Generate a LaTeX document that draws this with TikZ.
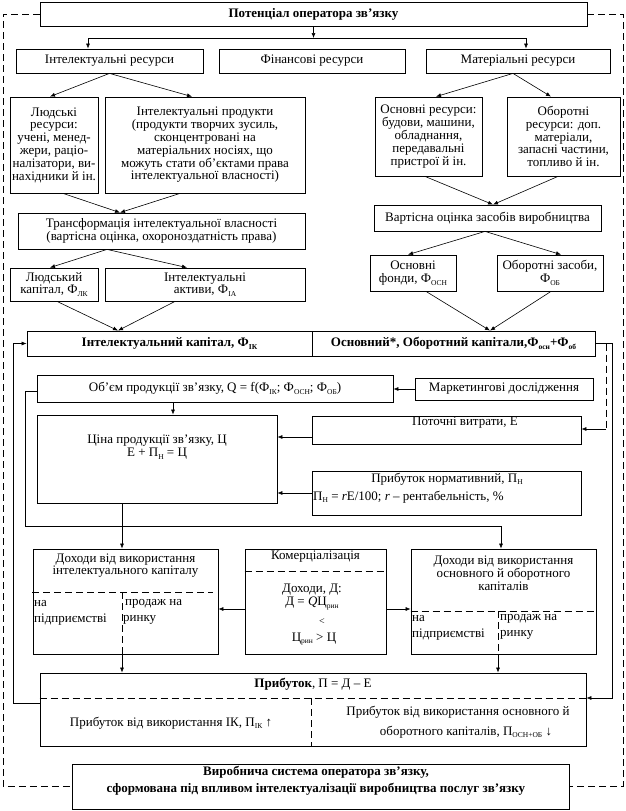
\documentclass[tikz,border=0pt]{standalone}
\usepackage{fontspec}
\setmainfont{Liberation Serif}
\usetikzlibrary{arrows.meta}
\newcommand\lsub[1]{\raisebox{-0.45ex}{\fontsize{7.5}{8}\selectfont #1}}
\begin{document}
\begin{tikzpicture}[x=1pt,y=-1pt,
  font=\fontsize{13}{12.8}\selectfont,
  box/.style={draw, line width=0.8pt, inner sep=0pt, align=center},
  txt/.style={inner sep=0pt, align=center},
  bfnt/.style={font=\fontsize{13}{16.5}\selectfont\bfseries},
  arr/.style={-{Latex[length=5pt,width=4pt]}, line width=0.6pt},
  ln/.style={line width=0.6pt},
  dsh/.style={line width=0.7pt, dash pattern=on 7pt off 4pt}]
\useasboundingbox (0,0) rectangle (626,811);
% boxes
\node[box, bfnt, minimum width=547pt, minimum height=24pt] (top) at (313.5,14) {Потенціал оператора зв’язку};
\node[box, minimum width=187pt, minimum height=24pt] (ir) at (109.5,61) {Інтелектуальні ресурси};
\node[box, minimum width=186pt, minimum height=24pt] (fr) at (312,61) {Фінансові ресурси};
\node[box, minimum width=184pt, minimum height=24pt] (mr) at (518,61) {Матеріальні ресурси};
\node[box, minimum width=88pt, minimum height=96pt] (lr) at (54,145) {Людські\\ресурси:\\учені, менед-\\жери, раціо-\\налізатори, ви-\\нахідники й ін.};
\node[box, minimum width=200pt, minimum height=96pt] (ip) at (205,145) {Інтелектуальні продукти\\(продукти творчих зусиль,\\сконцентровані на\\матеріальних носіях, що\\можуть стати об’єктами права\\інтелектуальної власності)};
\node[box, minimum width=107pt, minimum height=79pt] (osr) at (428.5,136.5) {Основні ресурси:\\будови, машини,\\обладнання,\\передавальні\\пристрої й ін.};
\node[box, minimum width=113pt, minimum height=79pt] (obr) at (563.5,136.5) {Оборотні\\ресурси: доп.\\матеріали,\\запасні частини,\\топливо й ін.};
\node[box, minimum width=287pt, minimum height=36pt] (tr) at (161.5,231) {Трансформація інтелектуальної власності\\(вартісна оцінка, охороноздатність права)};
\node[box, minimum width=227pt, minimum height=26pt] (vo) at (487.5,218) {Вартісна оцінка засобів виробництва};
\node[box, minimum width=88pt, minimum height=33pt] (lk) at (54,284.5) {Людський\\капітал, Ф\lsub{ЛК}};
\node[box, minimum width=200pt, minimum height=33pt] (ia) at (205,284.5) {Інтелектуальні\\активи, Ф\lsub{ІА}};
\node[box, minimum width=86pt, minimum height=36pt] (of) at (413,273) {Основні\\фонди, Ф\lsub{ОСН}};
\node[box, minimum width=106pt, minimum height=36pt] (oz) at (550,273) {Оборотні засоби,\\Ф\lsub{ОБ}};
\node[box, bfnt, minimum width=285pt, minimum height=25pt] (ik) at (169.5,343.5) {Інтелектуальний капітал, Ф\lsub{ІК}};
\node[box, bfnt, minimum width=283pt, minimum height=25pt] (ok) at (453.5,343.5) {Основний*, Оборотний капітали,Ф\lsub{осн}+Ф\lsub{об}};
\node[box, minimum width=356pt, minimum height=27pt] (q) at (215,388.5) {Об’єм продукції зв’язку, Q = f(Ф\lsub{ІК}; Ф\lsub{ОСН}; Ф\lsub{ОБ})};
\node[box, minimum width=178pt, minimum height=22pt] (mk) at (504,389) {Маркетингові дослідження};
\node[box, minimum width=240pt, minimum height=88pt] (ci) at (157,459) {};
\node[box, minimum width=269pt, minimum height=28pt] (pv) at (446.5,430) {};
\node[box, minimum width=269pt, minimum height=44pt] (pn) at (446.5,493) {};
\node[box, minimum width=185pt, minimum height=105pt] (dl) at (125.5,601.5) {};
\node[box, minimum width=141pt, minimum height=105pt] (km) at (315.5,601.5) {};
\node[box, minimum width=185pt, minimum height=105pt] (dr) at (503.5,601.5) {};
\node[box, minimum width=546pt, minimum height=73pt] (pr) at (313,709.5) {};
\node[box, minimum width=497pt, minimum height=45pt] (vs) at (320.5,786.5) {};
% texts inside boxes
\node[txt] (cit) at (157,447) {Ціна продукції зв’язку, Ц\\Е + П\lsub{Н} = Ц};
\node[txt] (pvt) at (465,423) {Поточні витрати, Е};
\node[txt] (pnt1) at (447,479) {Прибуток нормативний, П\lsub{Н}};
\node[txt, anchor=west] (pnt2) at (313,497) {П\lsub{Н} = \textit{r}Е/100; \textit{r} – рентабельність, \%};
\node[txt] (dlt) at (125.5,565.5) {Доходи від використання\\інтелектуального капіталу};
\node[txt, anchor=west] (dla) at (34,604) {на};
\node[txt, anchor=west] (dlb) at (34,620) {підприємстві};
\node[txt, anchor=west] (dlc) at (125,604) {продаж на};
\node[txt, anchor=west] (dld) at (123,620) {ринку};
\node[txt] (kmt) at (315.5,557) {Комерціалізація};
\node[txt] (kmb) at (312,597) {Доходи, Д:\\Д = \textit{Q}Ц\lsub{рин}};
\node[txt, font=\fontsize{10}{10}\selectfont] (kml) at (322,622) {<};
\node[txt] (kmc) at (314,639) {Ц\lsub{рин} > Ц};
\node[txt] (drt) at (503.5,573) {Доходи від використання\\основного й оборотного\\капіталів};
\node[txt, anchor=west] (dra) at (412,619) {на};
\node[txt, anchor=west] (drb) at (412,635) {підприємстві};
\node[txt, anchor=west] (drc) at (500,619) {продаж на};
\node[txt, anchor=west] (drd) at (500,635) {ринку};
\node[txt] (prt) at (313,684) {\textbf{Прибуток}, П = Д – Е};
\node[txt] (prl) at (171,723) {Прибуток від використання ІК, П\lsub{ІК} ↑};
\node[txt] (prr1) at (458,712) {Прибуток від використання основного й};
\node[txt] (prr2) at (466,732) {оборотного капіталів, П\lsub{ОСН+ОБ} ↓};
\node[txt, bfnt] (vst) at (316,780.5) {Виробнича система оператора зв’язку,\\сформована під впливом інтелектуалізації виробництва послуг зв’язку};
% top distribution
\coordinate (jl) at (88,38);
\coordinate (jr) at (526,38);
\draw[arr] (top.south) -- (top.south |- jl);
\draw[ln] (jl) -- (jr);
\draw[arr] (jl) -- (jl |- ir.north);
\draw[arr] (jr) -- (jr |- mr.north);
% tree arrows
\draw[arr] (ir.south) -- ([xshift=-4pt]lr.north);
\draw[arr] (ir.south) -- ([xshift=-13pt]ip.north);
\draw[arr] ([xshift=9pt]lr.south) -- ([xshift=-41.5pt]tr.north);
\draw[arr] ([xshift=-25pt]ip.south) -- ([xshift=-41.5pt]tr.north);
\draw[arr] ([xshift=-5pt]mr.south) -- ([xshift=7.5pt]osr.north);
\draw[arr] ([xshift=-5pt]mr.south) -- ([xshift=-12.5pt]obr.north);
\draw[arr] ([xshift=-3.5pt]osr.south) -- ([xshift=5.5pt]vo.north);
\draw[arr] ([xshift=-5.5pt]obr.south) -- ([xshift=5.5pt]vo.north);
\draw[arr] ([xshift=-54.5pt]tr.south) -- ([xshift=-4pt]lk.north);
\draw[arr] ([xshift=-54.5pt]tr.south) -- ([xshift=-18pt]ia.north);
\draw[arr] ([xshift=-2.5pt]vo.south) -- ([xshift=-5pt]of.north);
\draw[arr] ([xshift=-2.5pt]vo.south) -- ([xshift=11pt]oz.north);
\draw[arr] ([xshift=3pt]lk.south) -- ([xshift=-51.5pt]ik.north);
\draw[arr] ([xshift=-30pt]ia.south) -- ([xshift=-51.5pt]ik.north);
\draw[arr] ([xshift=13pt]of.south) -- ([xshift=36.5pt]ok.north);
\draw[arr] ([xshift=1pt]oz.south) -- ([xshift=36.5pt]ok.north);
% feedback left
\coordinate (lb1) at (13,703);
\coordinate (lb2) at (13,343.5);
\draw[arr] (pr.west |- lb1) -- (lb1) -- (lb2) -- (ik.west);
% feedback right
\coordinate (rb1) at (612,343.5);
\coordinate (rb2) at (612,698);
\draw[arr] (ok.east) -- (rb1) -- (rb2) -- (rb2 -| pr.east);
\coordinate (rd1) at (606,343.5);
\coordinate (rd2) at (606,429);
\draw[dsh] (rd1) -- (rd2);
\draw[arr] (rd2) -- (rd2 -| pv.east);
% Q loop
\coordinate (ql1) at (25,391);
\coordinate (ql2) at (25,526);
\coordinate (ql3) at (501,526);
\draw[arr] (ql1 -| q.west) -- (ql1) -- (ql2) -- (ql3) -- (ql3 |- dr.north);
\draw[arr] ([xshift=-42pt]q.south) -- ([xshift=16pt]ci.north);
\draw[arr] (mk.west) -- (mk.west -| q.east);
\coordinate (a1) at (312,437);
\draw[arr] (a1) -- (a1 -| ci.east);
\draw[arr] (pn.west) -- (pn.west -| ci.east);
\draw[arr] ([xshift=-35pt]ci.south) -- ([xshift=-3.5pt]dl.north);
% commercialisation arrows
\coordinate (a3) at (245,609);
\draw[arr] (a3) -- (a3 -| dl.east);
\draw[arr] (a3 -| km.east) -- (a3 -| dr.west);
% inner dashed dividers
\draw[dsh] (32,592) -- (213,592);
\coordinate (d1) at (122,592);
\draw[dsh] (d1) -- (d1 |- dl.south);
\draw[arr] (d1 |- dl.south) -- (d1 |- pr.north);
\draw[dsh] (km.west |- 0,571) -- (km.east |- 0,571);
\draw[dsh] (dr.west |- 0,611) -- (dr.east |- 0,611);
\coordinate (d2) at (498,611);
\draw[dsh] (d2) -- (d2 |- dr.south);
\draw[arr] (d2 |- dr.south) -- (d2 |- pr.north);
\draw[dsh] (pr.west |- 0,698) -- (pr.east |- 0,698);
\coordinate (d3) at (311,698);
\draw[dsh] (d3) -- (d3 |- pr.south);
% outer dashed frame
\coordinate (o1) at (3,14);
\coordinate (o2) at (3,786.5);
\coordinate (o3) at (623,14);
\coordinate (o4) at (623,786.5);
\draw[dsh] (top.west) -- (o1) -- (o2) -- (vs.west);
\draw[dsh] (top.east) -- (o3) -- (o4) -- (vs.east);
\end{tikzpicture}
\end{document}
